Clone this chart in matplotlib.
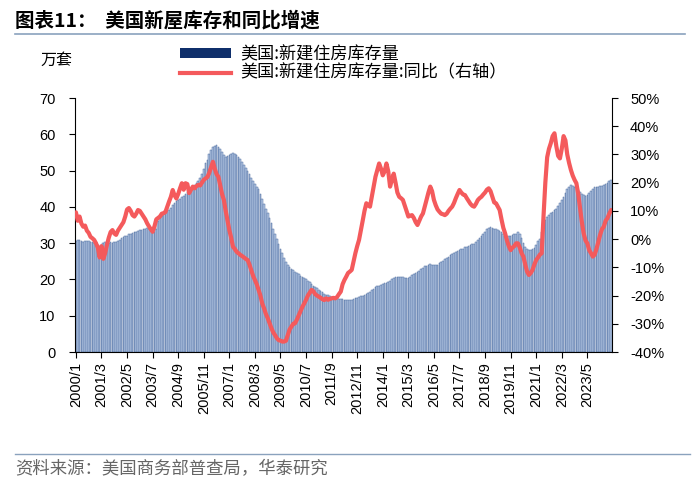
import matplotlib
matplotlib.use('Agg')
import matplotlib.pyplot as plt
import numpy as np
from matplotlib.lines import Line2D
from matplotlib.patches import Patch

plt.rcParams['font.family'] = ['Liberation Sans', 'Noto Sans CJK SC', 'DejaVu Sans']

# monthly, 2000/1 .. 2024/6
start_year = 2000
inventory = [  # 万套
    30.5, 30.8, 31.0, 30.6, 30.4, 30.5, 30.7, 30.6, 30.3, 30.2, 30.0, 30.2,
    29.5, 29.0, 29.6, 30.0, 30.2, 30.0, 30.1, 30.3, 30.0, 30.2, 30.4, 30.6,
    31.0, 31.3, 31.6, 31.9, 32.1, 32.4, 32.6, 32.9, 33.0, 33.2, 33.3, 33.5,
    33.7, 33.8, 34.0, 34.1, 33.8, 33.5, 33.2, 33.0, 34.0, 36.0, 37.0, 37.5,
    38.0, 38.5, 38.8, 39.2, 39.8, 40.5, 41.0, 41.5, 42.0, 42.3, 42.6, 43.0,
    43.5, 44.0, 44.5, 45.0, 45.5, 46.0, 46.5, 47.0, 48.0, 49.0, 50.5, 52.0,
    53.0, 54.5, 55.8, 56.5, 56.8, 57.0, 56.5, 56.0, 55.0, 54.2, 53.8, 54.0,
    54.3, 54.6, 54.8, 54.7, 54.3, 53.8, 53.2, 52.5, 51.6, 50.8, 50.0, 49.0,
    48.0, 47.2, 46.4, 45.6, 44.8, 43.5, 42.2, 40.8, 39.5, 38.2, 36.8, 35.5,
    34.0, 32.5, 31.2, 29.8, 28.5, 27.3, 26.0, 24.8, 24.0, 23.4, 22.8, 22.5,
    22.0, 21.7, 21.4, 21.0, 20.8, 20.4, 20.0, 19.7, 19.3, 18.8, 18.3, 17.9,
    17.6, 17.2, 16.8, 16.4, 16.0, 15.8, 15.6, 15.3, 15.2, 15.0, 14.9, 14.8,
    14.7, 14.6, 14.5, 14.4, 14.3, 14.2, 14.3, 14.4, 14.5, 14.8, 15.0, 15.2,
    15.4, 15.5, 15.8, 16.0, 16.3, 16.5, 17.0, 17.5, 17.9, 18.1, 18.3, 18.5,
    18.8, 18.9, 19.0, 19.2, 19.5, 20.0, 20.5, 20.8, 20.8, 20.7, 20.8, 20.6,
    20.5, 20.4, 20.5, 20.8, 21.1, 21.4, 21.8, 22.1, 22.4, 22.8, 23.2, 23.6,
    23.8, 24.0, 24.2, 24.0, 24.0, 23.9, 24.1, 24.4, 24.8, 25.2, 25.6, 26.0,
    26.3, 26.6, 26.9, 27.2, 27.5, 27.8, 28.0, 28.3, 28.5, 28.8, 29.0, 29.3,
    29.5, 29.7, 29.9, 30.3, 30.8, 31.4, 32.0, 32.6, 33.2, 33.8, 34.3, 34.5,
    34.3, 34.0, 33.8, 33.6, 33.4, 33.0, 32.6, 32.0, 31.8, 31.9, 32.1, 32.3,
    32.4, 32.6, 33.0, 32.5, 31.5, 30.0, 29.0, 28.3, 28.1, 28.2, 28.4, 28.6,
    29.5, 30.5, 31.2, 33.0, 35.0, 36.5, 37.3, 37.8, 38.2, 38.6, 39.0, 39.3,
    40.2, 41.0, 42.0, 42.8, 43.8, 44.8, 45.6, 46.0, 45.8, 45.5, 45.2, 44.6,
    44.0, 43.6, 43.3, 43.0, 43.4, 43.8, 44.3, 45.0, 45.5, 45.6, 45.4, 45.8,
    45.8, 46.0, 46.3, 46.5, 47.0, 47.5,
]
yoy = [  # %
    9.5, 6.5, 8.0, 5.5, 4.4, 4.8, 3.0, 2.2, 0.8, 0.3, -0.3, -1.5,
    -3.0, -6.5, -2.5, -7.0, -5.0, -2.0, 0.5, 2.5, 3.2, 2.0, 1.5, 3.0,
    4.0, 5.0, 6.0, 8.0, 10.5, 11.0, 10.0, 8.5, 8.0, 9.0, 10.3, 10.0,
    9.0, 8.0, 7.0, 5.6, 4.5, 3.5, 2.6, 4.5, 7.0, 7.5, 8.0, 9.0,
    9.2, 9.6, 11.5, 13.3, 15.0, 17.4, 15.5, 14.4, 16.0, 18.0, 19.8, 17.5,
    19.8, 19.5, 16.3, 17.5, 18.6, 18.0, 18.8, 19.2, 19.0, 20.0, 21.0, 21.5,
    22.0, 23.5, 25.5, 27.4, 25.0, 23.0, 22.1, 19.0, 16.0, 13.9, 10.0, 6.5,
    3.2, 0.5, -2.7, -3.5, -4.5, -5.0, -5.6, -6.0, -6.5, -7.0, -7.4, -9.0,
    -11.0, -13.0, -14.5, -16.0, -18.0, -20.0, -22.8, -24.5, -26.5, -28.0, -29.8, -31.5,
    -33.0, -34.0, -35.1, -35.8, -36.0, -36.3, -36.3, -36.0, -34.0, -32.0, -31.0, -30.0,
    -29.8, -28.5, -27.0, -25.5, -24.0, -22.8, -21.5, -20.0, -19.0, -18.0, -18.5, -19.5,
    -20.0, -20.4, -20.8, -21.3, -21.6, -21.0, -21.5, -21.2, -21.0, -20.8, -21.0, -20.5,
    -19.5, -18.6, -16.0, -14.5, -13.3, -12.0, -11.5, -10.9, -8.0, -5.0, -2.5, -0.3,
    3.0, 6.5, 10.0, 12.7, 12.0, 11.5, 15.0, 18.5, 22.1, 24.5, 26.8, 25.0,
    22.6, 24.0, 26.8, 24.0, 18.6, 21.0, 23.2, 20.0, 16.5, 15.0, 14.5, 13.9,
    12.0, 10.0, 8.0, 8.3, 8.5, 7.5, 6.0, 5.0, 6.5, 8.0, 9.1, 11.5,
    14.0, 16.5, 18.6, 17.0, 13.9, 12.0, 10.5, 9.7, 9.0, 8.8, 8.5, 9.0,
    10.0, 10.8, 11.5, 12.8, 14.5, 16.0, 17.4, 16.5, 15.8, 15.6, 14.5, 13.5,
    12.5, 11.8, 11.5, 12.5, 13.8, 14.5, 15.0, 15.8, 16.5, 17.5, 18.0, 17.0,
    15.0, 13.0, 12.7, 11.5, 10.3, 7.0, 4.0, 2.0, -0.5, -2.5, -3.9, -3.0,
    -2.5, -1.5, -1.5, -3.0, -5.0, -6.2, -9.0, -11.5, -12.7, -12.0, -10.9, -9.0,
    -7.4, -6.5, -5.5, -5.0, 8.0, 20.0, 29.0, 32.0, 34.0, 36.5, 37.5, 33.0,
    29.5, 28.6, 32.0, 36.5, 35.0, 30.0, 27.0, 24.5, 22.5, 21.0, 19.8, 16.0,
    11.0, 6.0, 2.0, -0.5, -1.5, -3.9, -5.0, -6.2, -5.5, -3.5, -1.0, 1.5,
    3.5, 4.4, 6.5, 7.4, 9.0, 10.3,
]

labels = [f'{start_year + i // 12}/{i % 12 + 1}' for i in range(len(inventory))]
x = np.arange(len(inventory))

fig = plt.figure(figsize=(7, 4.86), dpi=100)
ax = fig.add_axes([75 / 700, 1 - 352 / 486, 537 / 700, 254 / 486])
ax2 = ax.twinx()

ax.bar(x, inventory, width=0.9, color='#b4c7e3', edgecolor='#4a6a9e', linewidth=0.35)
ax2.plot(x, yoy, color='#f45a5c', linewidth=3.0, solid_capstyle='round', solid_joinstyle='round')

ax.set_xlim(-0.5, len(x) - 0.5)
ax.set_ylim(0, 70)
ax.set_yticks(range(0, 71, 10))
ax2.set_ylim(-40, 50)
ax2.set_yticks(range(-40, 51, 10))
ax2.set_yticklabels([f'{v}%' for v in range(-40, 51, 10)])

ticks = x[::14]
ax.set_xticks(ticks)
ax.set_xticklabels([labels[i] for i in ticks], rotation=90)

for a in (ax, ax2):
    a.spines['top'].set_visible(False)
    a.tick_params(labelsize=10.5, length=4, width=0.8, colors='black')
ax.spines['right'].set_visible(False)
ax2.spines['left'].set_visible(False)
ax2.spines['bottom'].set_visible(False)
ax.tick_params(axis='y', pad=10)
ax2.tick_params(axis='y', pad=9)
ax.tick_params(axis='x', pad=3)

cjk = ['Noto Sans CJK SC', 'DejaVu Sans']
fig.text(15 / 700, 1 - 21 / 486, '图表11：  美国新屋库存和同比增速', family=cjk,
         fontsize=14, fontweight='bold', va='center', ha='left')
fig.add_artist(Line2D([15 / 700, 685 / 700], [1 - 34 / 486] * 2, color='#8aa2bd', linewidth=1.2))
fig.text(40 / 700, 1 - 60 / 486, '万套', family=cjk, fontsize=11.5, va='center')

handles = [Patch(facecolor='#0f2f6b', edgecolor='none'),
           Line2D([0], [0], color='#f45a5c', linewidth=3.0)]
leg = fig.legend(handles, ['美国:新建住房库存量', '美国:新建住房库存量:同比（右轴）'],
                 loc='upper left', bbox_to_anchor=(180 / 700, 1 - 45 / 486),
                 frameon=False, prop={'family': cjk, 'size': 12.3},
                 handlelength=3.0, handleheight=0.45, handletextpad=0.5,
                 labelspacing=0.05, borderaxespad=0, borderpad=0)

fig.add_artist(Line2D([15 / 700, 690 / 700], [1 - 454 / 486] * 2, color='#8aa2bd', linewidth=1.0))
fig.text(15 / 700, 1 - 469 / 486, '资料来源：美国商务部普查局，华泰研究', family=cjk,
         fontsize=12.5, color='#666666', va='center')

fig.savefig('out.png', dpi=100)
